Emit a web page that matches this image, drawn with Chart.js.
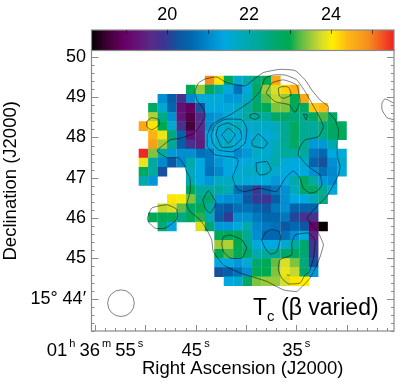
<!DOCTYPE html>
<html>
<head>
<meta charset="utf-8">
<style>
body { margin: 0; background: #fff; }
canvas { position: absolute; left: 0; top: 0; }
</style>
<script src="https://cdn.jsdelivr.net/npm/chart.js@4/dist/chart.umd.min.js"></script>
</head>
<body>
<canvas id="mapChart" width="415" height="386"></canvas>
<canvas id="barChart" width="415" height="52"></canvas>
<script>
// colour table
var cmapValues = [18.15, 18.5, 18.97, 19.6, 19.94, 20.24, 20.6, 21.0, 21.4, 21.8, 22.2, 22.6, 23.0, 23.2, 23.55, 23.8, 24.04, 24.4, 24.9, 25.54];
var cmapColors = ['#000000', '#3c0030', '#6a0068', '#5a2a88', '#3b3591', '#0f559f', '#0068b0', '#0088cc', '#00a8e0', '#00aabb', '#00a99d', '#00a870', '#00a94f', '#4bb848', '#a5cd39', '#dadf26', '#ffee00', '#fdb913', '#f78f1e', '#ed2224'];

// centre of the first cell and cell steps, RA in seconds, Dec in arcmin
var ra0 = 50.18, raStep = 0.9393;
var dec0 = 49.415, decStep = 0.2264;

var _ = null;
// T_c per cell, top row first, RA decreasing to the right
var tempRows = [
    [_, _, _, _, _, _, _, 24.9, 24.1, 22.8, 21.6, 22.0, 22.5, 23.0, 24.6, _, _, _, _, _, _, _],
    [_, _, _, _, _, 22.9, 23.5, 22.9, 22.2, 21.4, 20.7, 21.4, 22.7, 23.5, 23.8, 24.2, 24.5, _, _, _, _, _],
    [_, _, 21.1, 20.4, 19.8, 21.0, 21.5, 21.5, 21.5, 21.2, 21.2, 21.7, 22.6, 23.3, 23.7, 23.5, 23.0, 24.6, _, _, _, _],
    [_, 22.8, 21.6, 20.6, 19.2, 18.9, 20.2, 21.4, 21.4, 21.5, 21.7, 22.1, 22.7, 22.9, 23.4, 23.4, 22.8, 22.8, 24.3, 24.4, _, _],
    [_, 23.6, 22.4, 21.1, 19.3, 18.7, 19.7, 21.1, 21.2, 21.5, 21.7, 22.2, 22.2, 22.2, 22.7, 22.7, 22.5, 22.4, 22.8, 23.2, 22.7, _],
    [24.6, 24.1, 23.0, 21.6, 19.8, 18.6, 19.6, 21.1, 21.6, 21.7, 21.8, 21.6, 21.7, 21.7, 21.8, 22.3, 22.8, 22.3, 22.2, 22.5, 22.8, 22.8],
    [_, 24.5, 23.9, 22.5, 20.5, 19.2, 19.5, 21.4, 21.5, 21.6, 21.5, 21.4, 21.6, 21.5, 21.7, 22.3, 22.8, 22.3, 22.2, 22.4, 22.7, 22.9],
    [_, 24.7, 23.5, 22.3, 20.4, 19.8, 19.4, 21.4, 21.6, 21.7, 21.5, 21.4, 21.7, 21.6, 21.8, 22.3, 22.7, 22.3, 21.2, 21.2, 22.0, _],
    [25.5, 23.4, 22.1, 21.2, 21.1, 21.1, 20.7, 20.8, 21.4, 21.4, 21.0, 21.2, 21.7, 21.6, 21.9, 22.2, 22.2, 22.2, 20.8, 20.6, 21.4, 21.5],
    [23.9, 22.2, 21.0, 20.3, 21.0, 22.0, 21.4, 20.8, 21.2, 21.5, 21.4, 21.5, 21.5, 21.7, 22.0, 21.5, 21.4, 21.6, 20.5, 20.2, 21.1, 21.6],
    [22.8, 22.2, 20.2, _, _, 21.8, 21.4, 20.7, 21.0, 21.4, 21.5, 21.7, 21.7, 21.7, 21.6, 21.4, 21.4, 21.4, 21.1, 20.7, 21.0, 21.5],
    [22.0, 21.2, _, _, _, 21.9, 21.4, 21.2, 21.7, 21.7, 21.6, 21.5, 21.5, 21.5, 21.2, 21.4, 22.0, 22.7, 22.1, 21.2, 21.1, _],
    [_, _, _, _, _, 22.9, 22.2, 22.2, 22.2, 21.9, 20.7, 20.4, 20.0, 20.5, 20.8, 21.1, 21.8, 22.7, 22.7, 22.3, 21.5, _],
    [_, _, _, 24.1, 24.0, 23.4, 22.4, 22.6, 21.2, 21.1, 21.0, 20.3, 20.0, 19.9, 20.4, 21.1, 21.4, 21.4, 21.8, 22.4, _, _],
    [_, _, 23.7, 23.8, 23.3, 22.7, 22.9, 22.2, 20.5, 20.3, 20.7, 20.7, 20.5, 20.3, 20.8, 21.1, 20.5, 20.5, 20.5, _, _, _],
    [_, 22.9, 22.9, 22.9, 22.4, 22.9, 23.1, 21.9, 20.4, 20.0, 21.1, 21.1, 20.8, 20.6, 20.6, 20.8, 20.1, 19.8, 19.8, _, _, _],
    [_, _, 22.5, 21.4, _, _, 23.8, 22.6, 21.2, 21.2, 21.5, 22.0, 21.0, 20.8, 20.7, 20.3, 20.6, 20.3, 19.0, 18.2, _, _],
    [_, _, _, _, _, _, _, _, 22.9, 22.9, 22.9, 22.3, 21.1, 20.6, 20.6, 20.7, 21.1, 21.5, 19.5, _, _, _],
    [_, _, _, _, _, _, _, _, 23.5, 23.6, 23.0, 22.4, 21.5, 21.4, 21.4, 21.6, 22.1, 22.6, 19.9, _, _, _],
    [_, _, _, _, _, _, _, _, 23.0, 23.2, 22.9, 22.7, 22.0, 22.2, 22.3, 22.7, 22.8, 22.6, 20.0, _, _, _],
    [_, _, _, _, _, _, _, _, 21.4, 21.4, 21.2, 21.5, 22.6, 22.9, 23.3, 23.8, 23.4, 22.5, 20.2, _, _, _],
    [_, _, _, _, _, _, _, _, 20.2, 20.4, 20.7, 21.1, 22.9, 23.0, 23.4, 23.9, 23.7, 22.6, 21.2, _, _, _],
    [_, _, _, _, _, _, _, _, _, 21.4, 21.6, 22.7, 23.4, 23.5, 23.5, 23.8, 24.1, 24.05, _, _, _, _]
];

// contours, [RA s, Dec arcmin]
var contourOuter = [[48.80,47.69],[47.54,47.94],[46.55,47.98],[45.23,48.09],[44.73,48.23],[44.39,48.36],[44.06,48.52],[44.16,48.69],[44.89,48.93],[45.06,49.14],[44.73,49.35],[44.06,49.45],[42.90,49.50],[41.91,49.36],[40.09,49.28],[39.26,49.43],[38.27,49.61],[36.61,49.69],[35.12,49.66],[34.12,49.43],[33.46,49.18],[32.63,48.93],[31.81,48.77],[31.81,48.64],[31.14,48.44],[30.81,48.19],[30.91,47.86],[30.91,47.53],[30.64,47.28],[30.81,47.07],[31.31,46.82],[31.97,46.54],[32.80,46.33],[33.89,46.00],[32.80,45.63],[32.30,45.34],[32.80,44.92],[33.63,44.51],[34.62,44.25],[34.95,44.18],[36.28,44.22],[37.93,44.43],[40.58,44.64],[42.24,44.84],[43.24,45.17],[43.40,45.46],[43.89,45.71],[44.56,45.96],[45.55,46.16],[45.88,46.33],[45.55,46.66],[45.55,46.99],[45.95,47.17],[46.05,47.28],[46.72,47.50],[47.87,47.50],[48.80,47.65]];
var contourInner = [[43.83,48.07],[43.40,48.31],[42.57,48.44],[41.58,48.56],[40.26,48.77],[39.59,48.89],[38.60,49.14],[38.10,49.47],[37.27,49.55],[36.11,49.55],[34.95,49.43],[34.12,49.14],[33.63,48.93],[32.80,48.56],[32.30,48.27],[32.80,48.02],[34.12,47.94],[34.62,47.78],[34.79,47.57],[33.80,47.28],[32.63,47.07],[32.46,46.82],[32.96,46.66],[33.63,46.62],[34.29,46.74],[34.62,46.99],[35.29,47.17],[36.11,46.99],[36.94,46.66],[38.60,46.74],[40.09,46.66],[40.75,46.70],[41.18,46.87],[41.31,47.03],[40.85,47.32],[40.78,47.45],[41.25,47.51],[43.07,47.57],[43.83,47.78]];
var contourPeakA = [[43.47,48.06],[43.07,48.31],[42.08,48.45],[40.42,48.44],[39.92,48.23],[40.09,47.86],[41.25,47.65],[42.74,47.69],[43.30,47.86]];
var contourPeakB = [[42.97,48.07],[42.74,48.27],[41.75,48.36],[40.58,48.19],[40.42,47.98],[41.25,47.78],[42.40,47.76]];
var contourPeakC = [[42.40,48.07],[41.75,48.23],[41.08,48.07],[41.75,47.86]];
var contourTopA = [[38.00,49.10],[37.43,49.35],[36.28,49.43],[34.95,49.30],[34.62,48.89],[35.12,48.62],[35.68,48.81],[37.11,48.89]];
var contourTopB = [[36.78,49.22],[36.44,49.26],[35.78,49.25],[35.51,49.06],[36.28,48.97],[36.68,49.03]];
var contourSmall1 = [[39.59,48.56],[39.09,48.60],[38.60,48.52],[39.09,48.45],[39.59,48.50]];
var contourSmall2 = [[34.29,48.58],[33.89,48.56],[34.02,48.44]];
var contourSmall3 = [[39.42,47.90],[38.76,48.09],[37.87,47.86],[38.27,47.74],[39.32,47.79]];
var contourSmall4 = [[38.99,47.37],[37.90,47.40],[37.50,47.20],[37.93,47.10],[38.60,47.07],[38.92,47.15]];
var contourLeftTop = [[49.86,48.40],[49.36,48.49],[48.70,48.45],[48.61,48.31],[49.36,48.19],[49.86,48.27]];
var contourDiamond = [[44.29,46.45],[43.73,46.68],[42.97,46.37],[43.57,46.12],[44.06,46.25]];
var contourLeftLow = [[49.80,46.00],[49.36,46.25],[47.87,46.33],[46.88,46.22],[46.88,45.97],[48.04,45.75],[49.03,45.75],[49.70,45.91]];
var contourLowA = [[42.24,45.54],[41.58,45.58],[40.42,45.46],[39.92,45.26],[40.42,45.01],[41.58,45.01],[42.24,45.17],[42.40,45.38]];
var contourLowB = [[38.10,45.63],[37.60,45.71],[36.78,45.68],[36.54,45.54],[36.94,45.16],[37.60,45.11],[38.10,45.26],[38.43,45.46]];
var contourBottom = [[35.45,45.38],[35.12,45.58],[33.79,45.63],[33.13,45.46],[33.30,45.00],[33.70,44.67],[34.12,44.59],[34.62,44.39],[35.78,44.37],[36.44,44.51],[36.78,44.72],[36.61,44.97],[35.45,45.09]];
var contourEdge = [[25.08,48.82],[26.17,48.96],[26.47,48.86],[26.47,48.69],[25.97,48.49],[25.08,48.43]];
var contourTick = [[35.94,44.59],[35.61,44.58]];

var closedContours = [contourOuter, contourInner, contourPeakA, contourPeakB, contourPeakC, contourTopA, contourTopB,
    contourSmall1, contourSmall2, contourSmall3, contourSmall4, contourLeftTop, contourDiamond, contourLeftLow,
    contourLowA, contourLowB, contourBottom];
var openContours = [contourEdge, contourTick];

var beamPos = [{x: 52.42, y: 43.89}];

// RA tick labels, number + superscript pairs
var raTickValues = [55, 45, 35];
var raTickRuns = [
    [['01', 'h'], ['36', 'm'], ['55', 's']],
    [['45', 's']],
    [['35', 's']]
];
var decLabels = {50: '50', 49: '49', 48: '48', 47: '47', 46: '46', 45: '45', 44: '15\u00b0 44\u2032'};
var barLabels = {20: '20', 22: '22', 24: '24'};

var fontName = '"Liberation Sans", Arial, sans-serif';
var frameColor = '#8a8a8a';

function hexToRgb(h) {
    return [parseInt(h.substr(1, 2), 16), parseInt(h.substr(3, 2), 16), parseInt(h.substr(5, 2), 16)];
}

function tempColor(t) {
    var i = 0;
    while (i < cmapValues.length - 2 && t > cmapValues[i + 1]) i++;
    var f = (t - cmapValues[i]) / (cmapValues[i + 1] - cmapValues[i]);
    f = Math.max(0, Math.min(1, f));
    var a = hexToRgb(cmapColors[i]), b = hexToRgb(cmapColors[i + 1]);
    return 'rgb(' + Math.round(a[0] + (b[0] - a[0]) * f) + ',' + Math.round(a[1] + (b[1] - a[1]) * f) + ',' + Math.round(a[2] + (b[2] - a[2]) * f) + ')';
}

function toPoints(list) {
    return list.map(function (p) { return {x: p[0], y: p[1]}; });
}

function lineSet(points) {
    return {
        data: toPoints(points),
        showLine: true,
        pointRadius: 0,
        borderColor: 'rgba(0,0,0,0.72)',
        borderWidth: 0.7,
        tension: 0.15,
        fill: false
    };
}

var cells = [];
tempRows.forEach(function (row, r) {
    row.forEach(function (t, k) {
        if (t !== null) cells.push({x: ra0 - k * raStep, y: dec0 - r * decStep, t: t});
    });
});

var datasets = [];
closedContours.forEach(function (c) { datasets.push(lineSet(c.concat([c[0]]))); });
openContours.forEach(function (c) { datasets.push(lineSet(c)); });
datasets.push({
    data: beamPos,
    pointStyle: 'circle',
    pointRadius: 13.3,
    pointBackgroundColor: 'rgba(0,0,0,0)',
    pointBorderColor: 'rgba(0,0,0,0.7)',
    pointBorderWidth: 0.7
});
datasets.push({
    data: cells,
    pointStyle: 'rect',
    pointRadius: 6.8,
    pointBorderWidth: 0,
    pointBackgroundColor: function (ctx) { return ctx.raw ? tempColor(ctx.raw.t) : '#fff'; }
});

// ticks point inward in this plot, the library only draws them outward
function drawInwardTicks(chart, scale, otherSide, majorTest, major, minor, color) {
    var ctx = chart.ctx, area = chart.chartArea;
    ctx.save();
    ctx.strokeStyle = color;
    ctx.lineWidth = 1;
    scale.ticks.forEach(function (tick, i) {
        var len = majorTest(tick.value) ? major : minor;
        var p = Math.round(scale.getPixelForTick(i)) + 0.5;
        ctx.beginPath();
        if (scale.isHorizontal()) {
            ctx.moveTo(p, otherSide ? area.top : area.bottom);
            ctx.lineTo(p, otherSide ? area.top + len : area.bottom - len);
        } else {
            ctx.moveTo(area.left, p); ctx.lineTo(area.left + len, p);
            ctx.moveTo(area.right, p); ctx.lineTo(area.right - len, p);
        }
        ctx.stroke();
    });
    ctx.restore();
}

function drawFrame(chart) {
    var ctx = chart.ctx, area = chart.chartArea;
    ctx.save();
    ctx.strokeStyle = frameColor;
    ctx.lineWidth = 1.2;
    ctx.strokeRect(area.left, area.top, area.right - area.left, area.bottom - area.top);
    ctx.restore();
}

// number + raised small letter, centred on x
function drawRaLabel(ctx, runs, x, y) {
    var big = '18.5px ' + fontName, small = '11px ' + fontName;
    var total = 0;
    runs.forEach(function (r, i) {
        ctx.font = big;
        total += ctx.measureText(r[0]).width + 2;
        ctx.font = small;
        total += ctx.measureText(r[1]).width + (i < runs.length - 1 ? 4 : 0);
    });
    var px = x - total / 2;
    runs.forEach(function (r) {
        ctx.font = big;
        ctx.fillText(r[0], px, y);
        px += ctx.measureText(r[0]).width + 2;
        ctx.font = small;
        ctx.fillText(r[1], px, y - 9);
        px += ctx.measureText(r[1]).width + 4;
    });
}

var mapDecor = {
    id: 'mapDecor',
    afterDraw: function (chart) {
        var sx = chart.scales.x, sy = chart.scales.y;
        drawFrame(chart);
        drawInwardTicks(chart, sx, false, function (v) { return Math.round(v) % 5 === 0; }, 6, 3, frameColor);
        drawInwardTicks(chart, sy, true, function (v) { return Math.abs(v - Math.round(v)) < 0.01; }, 7, 3, frameColor);

        var ctx = chart.ctx;
        ctx.save();
        ctx.fillStyle = '#000';
        ctx.textBaseline = 'alphabetic';

        raTickValues.forEach(function (v, i) {
            drawRaLabel(ctx, raTickRuns[i], sx.getPixelForValue(v), chart.chartArea.bottom + 25);
        });

        // T_c (beta varied), placed from the axes
        var x = sx.getPixelForValue(39.29);
        var y = sy.getPixelForValue(43.6);
        ctx.font = '23px ' + fontName;
        ctx.fillText('T', x, y);
        var w = ctx.measureText('T').width;
        ctx.font = '15px ' + fontName;
        ctx.fillText('c', x + w, y + 6);
        var w2 = ctx.measureText('c').width;
        ctx.font = '23px ' + fontName;
        ctx.fillText(' (\u03b2 varied)', x + w + w2, y);

        // Dec title sits above the axis middle in the original
        ctx.translate(16, sy.getPixelForValue(46.925));
        ctx.rotate(-Math.PI / 2);
        ctx.textAlign = 'center';
        ctx.font = '18.5px ' + fontName;
        ctx.fillText('Declination (J2000)', 0, 0);
        ctx.restore();
    }
};

var mapChart = new Chart(document.getElementById('mapChart').getContext('2d'), {
    type: 'scatter',
    data: {datasets: datasets},
    plugins: [mapDecor],
    options: {
        responsive: false,
        animation: false,
        layout: {padding: {top: 50, right: 21, left: 0, bottom: 0}},
        plugins: {legend: {display: false}, tooltip: {enabled: false}},
        scales: {
            x: {
                type: 'linear',
                reverse: true,
                min: 25.28,
                max: 55.35,
                afterFit: function (s) { s.height = 55; },
                grid: {display: false, drawTicks: false},
                border: {display: false},
                title: {
                    display: true,
                    text: 'Right Ascension (J2000)',
                    color: '#000',
                    font: {family: fontName, size: 18.5},
                    padding: {top: 0, bottom: 6}
                },
                ticks: {
                    stepSize: 1,
                    includeBounds: false,
                    autoSkip: false,
                    maxRotation: 0,
                    callback: function () { return ''; }
                }
            },
            y: {
                type: 'linear',
                min: 43.2,
                max: 50.17,
                afterFit: function (s) { s.width = 91.5; },
                grid: {display: false, drawTicks: false},
                border: {display: false},
                ticks: {
                    stepSize: 0.2,
                    includeBounds: false,
                    autoSkip: false,
                    color: '#000',
                    padding: 5.5,
                    font: {family: fontName, size: 18},
                    callback: function (v) {
                        var n = Math.round(v);
                        return Math.abs(v - n) < 0.01 ? (decLabels[n] || '') : '';
                    }
                }
            }
        }
    }
});

// colour bar, one floating bar filled with the same colour table
var barDecor = {
    id: 'barDecor',
    afterDraw: function (chart) {
        drawFrame(chart);
        drawInwardTicks(chart, chart.scales.x, true, function () { return true; }, 4, 4, 'rgba(0,0,0,0.55)');
    }
};

new Chart(document.getElementById('barChart').getContext('2d'), {
    type: 'bar',
    data: {
        labels: ['Tc'],
        datasets: [{
            data: [[cmapValues[0], cmapValues[cmapValues.length - 1]]],
            barPercentage: 1,
            categoryPercentage: 1,
            borderWidth: 0,
            backgroundColor: function (ctx) {
                var chart = ctx.chart;
                if (!chart.chartArea) return '#000';
                var sx = chart.scales.x;
                var g = chart.ctx.createLinearGradient(sx.left, 0, sx.right, 0);
                cmapValues.forEach(function (v, i) {
                    g.addColorStop((v - sx.min) / (sx.max - sx.min), cmapColors[i]);
                });
                return g;
            }
        }]
    },
    plugins: [barDecor],
    options: {
        indexAxis: 'y',
        responsive: false,
        animation: false,
        layout: {padding: {top: 0, right: 21, left: 91.5, bottom: 1.5}},
        plugins: {legend: {display: false}, tooltip: {enabled: false}},
        scales: {
            y: {display: false},
            x: {
                type: 'linear',
                position: 'top',
                min: cmapValues[0],
                max: cmapValues[cmapValues.length - 1],
                afterFit: function (s) { s.height = 30; },
                grid: {display: false, drawTicks: false},
                border: {display: false},
                ticks: {
                    stepSize: 1,
                    includeBounds: false,
                    autoSkip: false,
                    maxRotation: 0,
                    color: '#000',
                    padding: 4,
                    font: {family: fontName, size: 18},
                    callback: function (v) { return barLabels[v] || ''; }
                }
            }
        }
    }
});
</script>
</body>
</html>
